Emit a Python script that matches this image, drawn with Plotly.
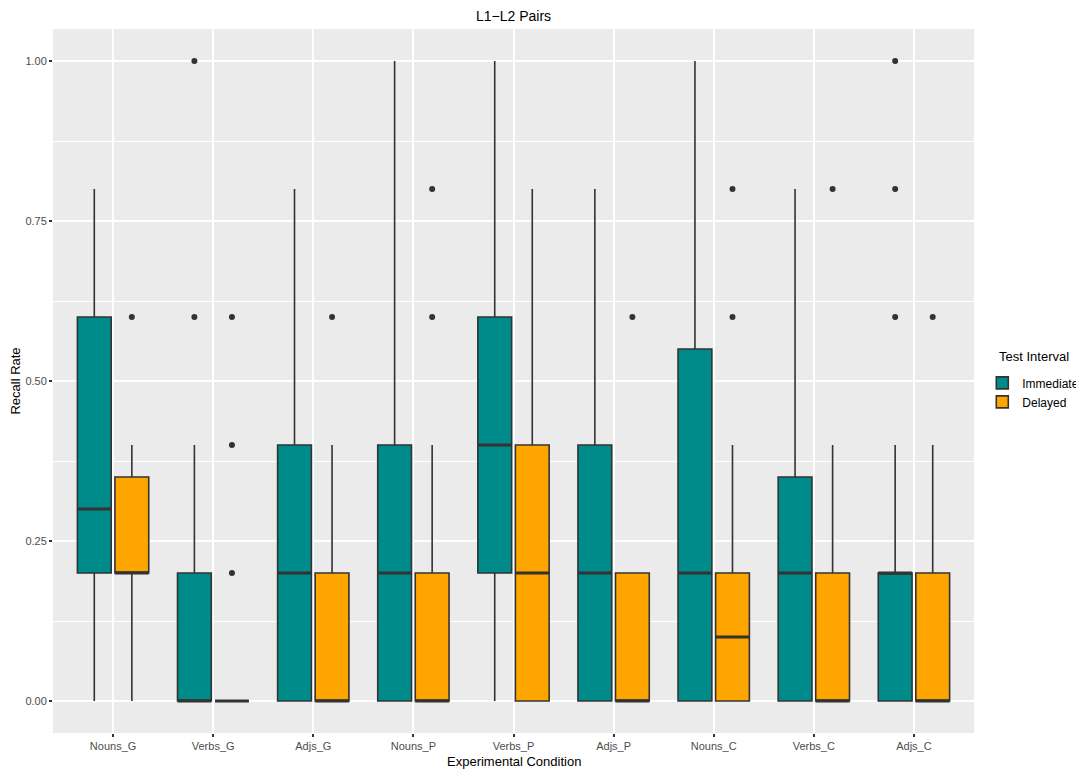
import plotly.graph_objects as go

# conditions on the x axis
conditions = ["Nouns_G", "Verbs_G", "Adjs_G", "Nouns_P", "Verbs_P",
              "Adjs_P", "Nouns_C", "Verbs_C", "Adjs_C"]

# Immediate test (teal)
imm_q1 = [0.20, 0.00, 0.00, 0.00, 0.20, 0.00, 0.00, 0.00, 0.00]
imm_median = [0.30, 0.00, 0.20, 0.20, 0.40, 0.20, 0.20, 0.20, 0.20]
imm_q3 = [0.60, 0.20, 0.40, 0.40, 0.60, 0.40, 0.55, 0.35, 0.20]
imm_low = [0.00, 0.00, 0.00, 0.00, 0.00, 0.00, 0.00, 0.00, 0.00]
imm_high = [0.80, 0.40, 0.80, 1.00, 1.00, 0.80, 1.00, 0.80, 0.40]
imm_outliers = [[], [0.6, 1.0], [], [], [], [], [], [], [0.6, 0.8, 1.0]]

# Delayed test (orange)
del_q1 = [0.20, 0.00, 0.00, 0.00, 0.00, 0.00, 0.00, 0.00, 0.00]
del_median = [0.20, 0.00, 0.00, 0.00, 0.20, 0.00, 0.10, 0.00, 0.00]
del_q3 = [0.35, 0.00, 0.20, 0.20, 0.40, 0.20, 0.20, 0.20, 0.20]
del_low = [0.00, 0.00, 0.00, 0.00, 0.00, 0.00, 0.00, 0.00, 0.00]
del_high = [0.40, 0.00, 0.40, 0.40, 0.80, 0.20, 0.40, 0.40, 0.40]
del_outliers = [[0.6], [0.2, 0.4, 0.6], [0.6], [0.6, 0.8], [], [0.6],
                [0.6, 0.8], [0.8], [0.6]]

TEAL = "#008B8B"
ORANGE = "#FFA500"
EDGE = "#333333"
DODGE = 0.1875      # ggplot position_dodge2 offset
BOX_W = 0.3375      # box width after padding

fig = go.Figure()

groups = [
    ("Immediate", TEAL, -DODGE, imm_q1, imm_median, imm_q3, imm_low, imm_high, imm_outliers),
    ("Delayed", ORANGE, DODGE, del_q1, del_median, del_q3, del_low, del_high, del_outliers),
]

for name, color, offset, q1, med, q3, low, high, outl in groups:
    xs = [i + 1 + offset for i in range(len(conditions))]
    fig.add_trace(
        go.Box(
            x=xs,
            q1=q1,
            median=med,
            q3=q3,
            lowerfence=low,
            upperfence=high,
            width=BOX_W,
            name=name,
            fillcolor=color,
            line=dict(color=EDGE, width=1.6),
            boxpoints=False,
            whiskerwidth=0,
            hoverinfo="skip",
        )
    )

    # thicker median line like ggplot
    mx, my = [], []
    for x, m in zip(xs, med):
        mx += [x - BOX_W / 2, x + BOX_W / 2, None]
        my += [m, m, None]
    fig.add_trace(
        go.Scatter(
            x=mx, y=my, mode="lines",
            line=dict(color=EDGE, width=3.2),
            showlegend=False, hoverinfo="skip",
        )
    )

    # outlier points
    ox, oy = [], []
    for x, pts in zip(xs, outl):
        for p in pts:
            ox.append(x)
            oy.append(p)
    fig.add_trace(
        go.Scatter(
            x=ox, y=oy, mode="markers",
            marker=dict(color=EDGE, size=6),
            showlegend=False, hoverinfo="skip",
        )
    )

# page body has an 8px margin, so the figure starts at (8, 8) on screen
fig.update_layout(
    width=1076,
    height=764,
    margin=dict(l=45, r=110, t=21, b=39, autoexpand=False),
    paper_bgcolor="white",
    plot_bgcolor="#EBEBEB",
    font=dict(family="Liberation Sans, Arial, sans-serif", color="black"),
    title=dict(
        text="L1\u2212L2 Pairs",
        x=0.5, xref="paper", xanchor="center",
        y=1 - 8 / 764, yref="container", yanchor="middle",
        font=dict(size=14, color="black"),
    ),
    legend=dict(
        font=dict(size=12, color="black"),
        x=1.009, xanchor="left", y=0.518, yanchor="top",
        bgcolor="rgba(0,0,0,0)",
        itemwidth=30,
        tracegroupgap=0,
    ),
    annotations=[
        dict(
            text="Test Interval", xref="paper", yref="paper",
            x=1.025, y=0.535, xanchor="left", yanchor="middle",
            showarrow=False, font=dict(size=13, color="black"),
        ),
        dict(
            text="Experimental Condition", xref="paper", yref="paper",
            x=0.5, y=-0.04, xanchor="center", yanchor="middle",
            showarrow=False, font=dict(size=13, color="black"),
        ),
    ],
    showlegend=True,
)

fig.update_xaxes(
    range=[0.4, len(conditions) + 0.6],
    tickvals=list(range(1, len(conditions) + 1)),
    ticktext=conditions,
    showgrid=True, gridcolor="white", gridwidth=2,
    zeroline=False, automargin=False,
    ticks="outside", ticklen=3, tickwidth=1.5, tickcolor=EDGE,
    tickfont=dict(size=11, color="#4D4D4D"),
)

fig.update_yaxes(
    range=[-0.05, 1.05],
    tickvals=[0, 0.25, 0.5, 0.75, 1.0],
    ticktext=["0.00", "0.25", "0.50", "0.75", "1.00"],
    showgrid=True, gridcolor="white", gridwidth=2,
    minor=dict(tickvals=[0.125, 0.375, 0.625, 0.875], showgrid=True,
               gridcolor="white", gridwidth=1, ticks=""),
    zeroline=False, automargin=False,
    ticks="outside", ticklen=3, tickwidth=1.5, tickcolor=EDGE,
    tickfont=dict(size=11, color="#4D4D4D"),
    title=dict(text="Recall Rate", font=dict(size=13, color="black"), standoff=4),
)

fig.write_html("out.html")
